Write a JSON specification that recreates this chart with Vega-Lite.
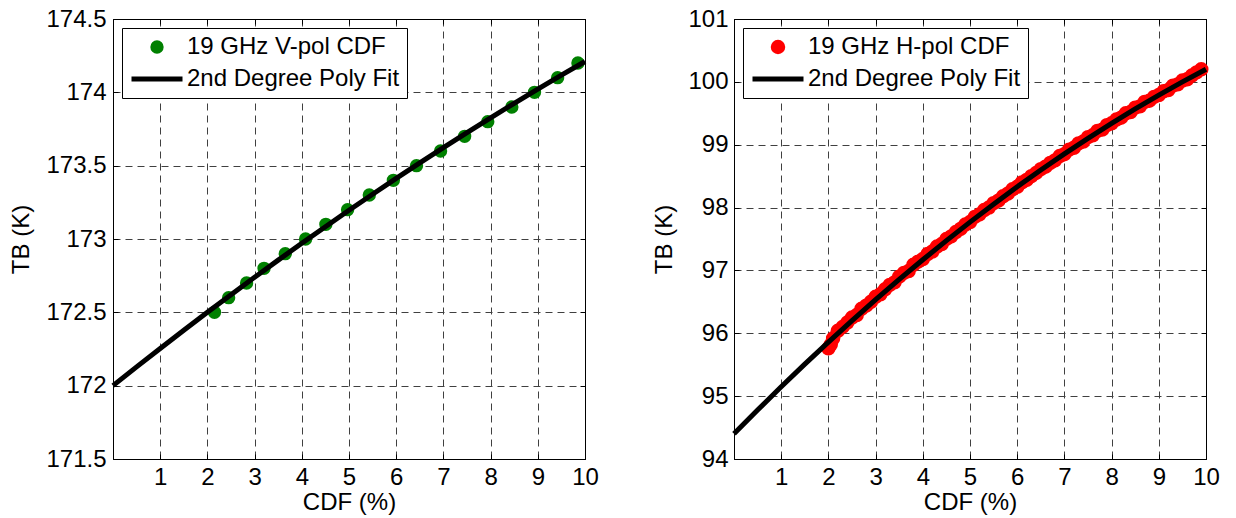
{
  "$schema": "https://vega.github.io/schema/vega-lite/v6.json",
  "autosize": {"type": "pad"},
  "padding": {"left": 8, "top": 6, "right": 0, "bottom": 0},
  "background": "white",
  "config": {
    "font": "Liberation Sans",
    "view": {"stroke": "black", "strokeWidth": 1},
    "axis": {
      "labelFont": "Liberation Sans",
      "titleFont": "Liberation Sans",
      "labelFontSize": 24,
      "titleFontSize": 24,
      "titleFontWeight": "normal",
      "labelColor": "black",
      "titleColor": "black",
      "domainColor": "black",
      "tickColor": "black",
      "tickSize": -5,
      "labelPadding": 11,
      "labelFlush": false,
      "labelOverlap": false,
      "gridColor": "#404040",
      "gridDash": [7, 5],
      "gridOpacity": 1,
      "gridWidth": 1
    },
    "legend": {
      "labelFont": "Liberation Sans",
      "labelFontSize": 24,
      "labelColor": "black",
      "title": null,
      "orient": "none",
      "legendX": 9,
      "legendY": 9,
      "strokeColor": "black",
      "fillColor": "white",
      "padding": 7,
      "symbolStrokeWidth": 5,
      "symbolOpacity": 1,
      "symbolOffset": 0,
      "labelOffset": 2,
      "clipHeight": 24,
      "rowPadding": 8,
      "labelLimit": 400
    }
  },
  "datasets": {
    "vpol": [
      {"cdf": 2.15, "tb": 172.5}, {"cdf": 2.45, "tb": 172.6}, {"cdf": 2.83, "tb": 172.7},
      {"cdf": 3.2, "tb": 172.8}, {"cdf": 3.65, "tb": 172.9}, {"cdf": 4.08, "tb": 173.0},
      {"cdf": 4.51, "tb": 173.1}, {"cdf": 4.97, "tb": 173.2}, {"cdf": 5.43, "tb": 173.3},
      {"cdf": 5.94, "tb": 173.4}, {"cdf": 6.43, "tb": 173.5}, {"cdf": 6.94, "tb": 173.6},
      {"cdf": 7.45, "tb": 173.7}, {"cdf": 7.94, "tb": 173.8}, {"cdf": 8.45, "tb": 173.9},
      {"cdf": 8.93, "tb": 174.0}, {"cdf": 9.42, "tb": 174.1}, {"cdf": 9.85, "tb": 174.2}
    ],
    "vfit": [
      {"cdf": 0, "tb": 172.0}, {"cdf": 0.5, "tb": 172.128}, {"cdf": 1, "tb": 172.254},
      {"cdf": 1.5, "tb": 172.378}, {"cdf": 2, "tb": 172.5}, {"cdf": 2.5, "tb": 172.620},
      {"cdf": 3, "tb": 172.739}, {"cdf": 3.5, "tb": 172.856}, {"cdf": 4, "tb": 172.971},
      {"cdf": 4.5, "tb": 173.084}, {"cdf": 5, "tb": 173.196}, {"cdf": 5.5, "tb": 173.305},
      {"cdf": 6, "tb": 173.413}, {"cdf": 6.5, "tb": 173.519}, {"cdf": 7, "tb": 173.623},
      {"cdf": 7.5, "tb": 173.725}, {"cdf": 8, "tb": 173.826}, {"cdf": 8.5, "tb": 173.925},
      {"cdf": 9, "tb": 174.022}, {"cdf": 9.5, "tb": 174.117}, {"cdf": 10, "tb": 174.21}
    ],
    "hpol": [
      {"cdf": 2.0, "tb": 95.76}, {"cdf": 2.05, "tb": 95.82}, {"cdf": 2.1, "tb": 95.92},
      {"cdf": 2.2, "tb": 96.04}, {"cdf": 2.3, "tb": 96.10}, {"cdf": 2.4, "tb": 96.17},
      {"cdf": 2.5, "tb": 96.25}, {"cdf": 2.6, "tb": 96.29}, {"cdf": 2.7, "tb": 96.39},
      {"cdf": 2.8, "tb": 96.44}, {"cdf": 2.9, "tb": 96.50}, {"cdf": 3.0, "tb": 96.58},
      {"cdf": 3.1, "tb": 96.62}, {"cdf": 3.2, "tb": 96.70}, {"cdf": 3.3, "tb": 96.77},
      {"cdf": 3.4, "tb": 96.81}, {"cdf": 3.5, "tb": 96.90}, {"cdf": 3.6, "tb": 96.96},
      {"cdf": 3.7, "tb": 96.99}, {"cdf": 3.8, "tb": 97.09}, {"cdf": 3.9, "tb": 97.14},
      {"cdf": 4.0, "tb": 97.18}, {"cdf": 4.1, "tb": 97.26}, {"cdf": 4.2, "tb": 97.30},
      {"cdf": 4.3, "tb": 97.38}, {"cdf": 4.4, "tb": 97.42}, {"cdf": 4.5, "tb": 97.50},
      {"cdf": 4.6, "tb": 97.54}, {"cdf": 4.7, "tb": 97.61}, {"cdf": 4.8, "tb": 97.66},
      {"cdf": 4.9, "tb": 97.73}, {"cdf": 5.0, "tb": 97.77}, {"cdf": 5.1, "tb": 97.85},
      {"cdf": 5.2, "tb": 97.89}, {"cdf": 5.3, "tb": 97.96}, {"cdf": 5.4, "tb": 98.00},
      {"cdf": 5.5, "tb": 98.07}, {"cdf": 5.6, "tb": 98.11}, {"cdf": 5.7, "tb": 98.18},
      {"cdf": 5.8, "tb": 98.22}, {"cdf": 5.9, "tb": 98.29}, {"cdf": 6.0, "tb": 98.33},
      {"cdf": 6.1, "tb": 98.40}, {"cdf": 6.2, "tb": 98.44}, {"cdf": 6.3, "tb": 98.50},
      {"cdf": 6.4, "tb": 98.55}, {"cdf": 6.5, "tb": 98.61}, {"cdf": 6.6, "tb": 98.65},
      {"cdf": 6.7, "tb": 98.71}, {"cdf": 6.8, "tb": 98.75}, {"cdf": 6.9, "tb": 98.82},
      {"cdf": 7.0, "tb": 98.85}, {"cdf": 7.1, "tb": 98.92}, {"cdf": 7.2, "tb": 98.95},
      {"cdf": 7.3, "tb": 99.02}, {"cdf": 7.4, "tb": 99.05}, {"cdf": 7.5, "tb": 99.12},
      {"cdf": 7.6, "tb": 99.15}, {"cdf": 7.7, "tb": 99.22}, {"cdf": 7.8, "tb": 99.24},
      {"cdf": 7.9, "tb": 99.31}, {"cdf": 8.0, "tb": 99.34}, {"cdf": 8.1, "tb": 99.40},
      {"cdf": 8.2, "tb": 99.43}, {"cdf": 8.3, "tb": 99.50}, {"cdf": 8.4, "tb": 99.52},
      {"cdf": 8.5, "tb": 99.59}, {"cdf": 8.6, "tb": 99.61}, {"cdf": 8.7, "tb": 99.68},
      {"cdf": 8.8, "tb": 99.70}, {"cdf": 8.9, "tb": 99.76}, {"cdf": 9.0, "tb": 99.79},
      {"cdf": 9.1, "tb": 99.85}, {"cdf": 9.2, "tb": 99.87}, {"cdf": 9.3, "tb": 99.94},
      {"cdf": 9.4, "tb": 99.96}, {"cdf": 9.5, "tb": 100.02}, {"cdf": 9.6, "tb": 100.04},
      {"cdf": 9.7, "tb": 100.10}, {"cdf": 9.8, "tb": 100.15}, {"cdf": 9.9, "tb": 100.20}
    ],
    "hfit": [
      {"cdf": 0, "tb": 94.40}, {"cdf": 0.5, "tb": 94.78}, {"cdf": 1, "tb": 95.149},
      {"cdf": 1.5, "tb": 95.509}, {"cdf": 2, "tb": 95.86}, {"cdf": 2.5, "tb": 96.202},
      {"cdf": 3, "tb": 96.534}, {"cdf": 3.5, "tb": 96.857}, {"cdf": 4, "tb": 97.17},
      {"cdf": 4.5, "tb": 97.474}, {"cdf": 5, "tb": 97.769}, {"cdf": 5.5, "tb": 98.054},
      {"cdf": 6, "tb": 98.33}, {"cdf": 6.5, "tb": 98.597}, {"cdf": 7, "tb": 98.854},
      {"cdf": 7.5, "tb": 99.102}, {"cdf": 8, "tb": 99.34}, {"cdf": 8.5, "tb": 99.569},
      {"cdf": 9, "tb": 99.789}, {"cdf": 9.5, "tb": 99.999}, {"cdf": 10, "tb": 100.2}
    ]
  },
  "hconcat": [
    {
      "width": 472,
      "height": 440,
      "resolve": {"axis": {"x": "independent", "y": "independent"}},
      "layer": [
        {
          "data": {"name": "vpol"},
          "transform": [{"calculate": "'19 GHz V-pol CDF'", "as": "series"}],
          "mark": {"type": "point", "filled": true, "opacity": 1, "strokeWidth": 5},
          "encoding": {
            "x": {
              "field": "cdf", "type": "quantitative",
              "scale": {"domain": [0, 10], "nice": false},
              "axis": {"values": [1, 2, 3, 4, 5, 6, 7, 8, 9, 10], "title": "CDF (%)", "titleY": 43, "titleBaseline": "middle", "grid": true}
            },
            "y": {
              "field": "tb", "type": "quantitative",
              "scale": {"domain": [171.5, 174.5], "nice": false, "zero": false},
              "axis": {"values": [171.5, 172, 172.5, 173, 173.5, 174, 174.5], "format": "~f", "title": "TB (K)", "titleX": -92, "titleBaseline": "middle", "grid": true, "labelPadding": 12}
            },
            "fill": {"field": "series", "type": "nominal", "scale": {"domain": ["19 GHz V-pol CDF", "2nd Degree Poly Fit"], "range": ["green", "black"]}},
            "stroke": {"field": "series", "type": "nominal", "scale": {"domain": ["19 GHz V-pol CDF", "2nd Degree Poly Fit"], "range": ["green", "black"]}},
            "shape": {"field": "series", "type": "nominal", "scale": {"domain": ["19 GHz V-pol CDF", "2nd Degree Poly Fit"], "range": ["circle", "stroke"]}},
            "size": {"field": "series", "type": "nominal", "scale": {"type": "point", "padding": 0, "domain": ["19 GHz V-pol CDF", "2nd Degree Poly Fit"], "range": [70, 2601]}}
          }
        },
        {
          "data": {"name": "vfit"},
          "mark": {"type": "line", "strokeWidth": 5, "color": "black"},
          "encoding": {
            "x": {"field": "cdf", "type": "quantitative", "axis": {"orient": "top", "values": [1, 2, 3, 4, 5, 6, 7, 8, 9, 10], "labels": false, "title": null, "grid": false}},
            "y": {"field": "tb", "type": "quantitative", "axis": {"orient": "right", "values": [171.5, 172, 172.5, 173, 173.5, 174, 174.5], "labels": false, "title": null, "grid": false}}
          }
        }
      ]
    },
    {
      "width": 472,
      "height": 440,
      "resolve": {"axis": {"x": "independent", "y": "independent"}},
      "layer": [
        {
          "data": {"name": "hpol"},
          "transform": [{"calculate": "'19 GHz H-pol CDF'", "as": "series"}],
          "mark": {"type": "point", "filled": true, "opacity": 1, "strokeWidth": 5},
          "encoding": {
            "x": {
              "field": "cdf", "type": "quantitative",
              "scale": {"domain": [0, 10], "nice": false},
              "axis": {"values": [1, 2, 3, 4, 5, 6, 7, 8, 9, 10], "title": "CDF (%)", "titleY": 43, "titleBaseline": "middle", "grid": true}
            },
            "y": {
              "field": "tb", "type": "quantitative",
              "scale": {"domain": [94, 101], "nice": false, "zero": false},
              "axis": {"values": [94, 95, 96, 97, 98, 99, 100, 101], "title": "TB (K)", "titleX": -70, "titleBaseline": "middle", "grid": true, "labelPadding": 11}
            },
            "fill": {"field": "series", "type": "nominal", "scale": {"domain": ["19 GHz H-pol CDF", "2nd Degree Poly Fit"], "range": ["red", "black"]}},
            "stroke": {"field": "series", "type": "nominal", "scale": {"domain": ["19 GHz H-pol CDF", "2nd Degree Poly Fit"], "range": ["red", "black"]}},
            "shape": {"field": "series", "type": "nominal", "scale": {"domain": ["19 GHz H-pol CDF", "2nd Degree Poly Fit"], "range": ["circle", "stroke"]}},
            "size": {"field": "series", "type": "nominal", "scale": {"type": "point", "padding": 0, "domain": ["19 GHz H-pol CDF", "2nd Degree Poly Fit"], "range": [90, 2601]}}
          }
        },
        {
          "data": {"name": "hfit"},
          "mark": {"type": "line", "strokeWidth": 5, "color": "black"},
          "encoding": {
            "x": {"field": "cdf", "type": "quantitative", "axis": {"orient": "top", "values": [1, 2, 3, 4, 5, 6, 7, 8, 9, 10], "labels": false, "title": null, "grid": false}},
            "y": {"field": "tb", "type": "quantitative", "axis": {"orient": "right", "values": [94, 95, 96, 97, 98, 99, 100, 101], "labels": false, "title": null, "grid": false}}
          }
        }
      ]
    }
  ],
  "bounds": "flush",
  "spacing": 149,
  "resolve": {
    "scale": {"fill": "independent", "stroke": "independent", "shape": "independent", "size": "independent"},
    "legend": {"fill": "independent", "stroke": "independent", "shape": "independent", "size": "independent"}
  }
}
